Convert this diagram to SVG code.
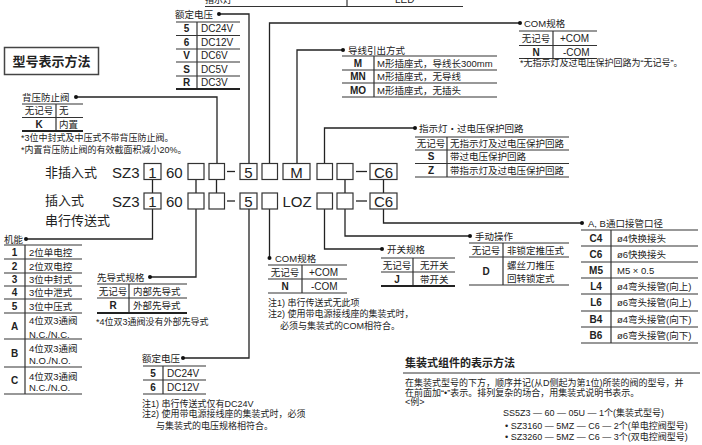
<svg xmlns="http://www.w3.org/2000/svg" width="702" height="445" viewBox="0 0 702 445">
<defs>
<style>
text{font-family:"Liberation Sans","Noto Sans CJK SC",sans-serif;fill:#222;font-size:9.5px}
.b{font-weight:bold;font-size:10px}
.m{text-anchor:middle}
.v{font-size:10px}
.big{font-size:15px}
.h{font-size:13px;font-family:"Noto Sans CJK SC",sans-serif}
.n{font-size:9px}
.ln{stroke:#222;stroke-width:1.3;fill:none}
.tl{stroke:#333;stroke-width:1.2}
.tk{stroke:#222;stroke-width:2}
.bx{fill:#fff;stroke:#333;stroke-width:1.2}
.dot{fill:#111}
</style>
</defs>
<rect width="702" height="445" fill="#fff"/>

<g id="connectors">
<path class="ln" d="M217,163.5V97H76"/>
<path class="ln" d="M249,163.5V14H219"/>
<path class="ln" d="M269.5,163.5V23H520"/>
<path class="ln" d="M297,163.5V50H343"/>
<path class="ln" d="M324.5,163.5V128H415"/>
<path class="ln" d="M152.5,179.5V193M196,179.5V193M216.5,179.5V193M345,179.5V193M383.5,179.5V193"/>
<path class="ln" d="M152.5,209V239H26"/>
<path class="ln" d="M196,209V277H150"/>
<path class="ln" d="M249,209V358H183"/>
<path class="ln" d="M269.5,209V258"/>
<path class="ln" d="M324.5,209V249H382"/>
<path class="ln" d="M345,209V236H470"/>
<path class="ln" d="M383.5,209V223H582"/>
<g class="dot">
<circle cx="76" cy="97" r="2"/><circle cx="219" cy="14" r="2"/><circle cx="520" cy="23" r="2"/><circle cx="343" cy="50" r="2"/><circle cx="415" cy="128" r="2"/>
<circle cx="26" cy="239" r="2"/><circle cx="150" cy="277" r="2"/><circle cx="183" cy="358" r="2"/><circle cx="269.5" cy="258" r="2"/><circle cx="382" cy="249" r="2"/><circle cx="470" cy="236" r="2"/><circle cx="582" cy="223" r="2"/>
</g>
</g>

<g id="indicator-top">
<text x="205" y="3" class="n">指示灯</text>
<line x1="205" y1="6.5" x2="463" y2="6.5" class="tl"/>
<line x1="347" y1="0" x2="347" y2="6.5" class="tl"/>
<text x="395" y="3" class="v">LED</text>
</g>

<g id="title">
<rect x="4.5" y="47.5" width="94" height="27" fill="#fff" stroke="#444" stroke-width="1.5"/>
<text x="51.5" y="66" class="m" style="font-size:13px;font-weight:bold">型号表示方法</text>
</g>

<g id="voltage-top">
<text x="175" y="17.5">额定电压</text>
<path class="tl" d="M176,22H240M176,35.5H240M176,49H240M176,62H240M176,76H240M197,22V89"/>
<path class="tk" d="M176,89H240"/>
<text x="186.5" y="32.2" class="b m">5</text><text x="201" y="32.2" class="v">DC24V</text>
<text x="186.5" y="45.7" class="b m">6</text><text x="201" y="45.7" class="v">DC12V</text>
<text x="186.5" y="59" class="b m">V</text><text x="201" y="59" class="v">DC6V</text>
<text x="186.5" y="72.5" class="b m">S</text><text x="201" y="72.5" class="v">DC5V</text>
<text x="186.5" y="86" class="b m">R</text><text x="201" y="86" class="v">DC3V</text>
</g>

<g id="backpressure">
<text x="22" y="100.5">背压防止阀</text>
<path class="tl" d="M22,104H83M22,117.5H83M56,104V131"/>
<path class="tk" d="M22,131H83"/>
<text x="39" y="114" class="m">无记号</text><text x="59" y="114">无</text>
<text x="39" y="127.5" class="b m">K</text><text x="59" y="127.5">内置</text>
<text x="21" y="140.5" class="n">*3位中封式及中压式不带背压防止阀。</text>
<text x="21" y="152.5" class="n">*内置背压防止阀的有效截面积减小20%。</text>
</g>

<g id="lead-wire">
<text x="348" y="53.5">导线引出方式</text>
<path class="tl" d="M342,56H497M342,70H497M342,83H497M342,97H497M374,56V97"/>
<text x="358" y="66.5" class="b m">M</text><text x="377" y="66.5">M形插座式，导线长300mm</text>
<text x="358" y="80" class="b m">MN</text><text x="377" y="80">M形插座式，无导线</text>
<text x="358" y="93.5" class="b m">MO</text><text x="377" y="93.5">M形插座式，无插头</text>
</g>

<g id="com-top">
<text x="524" y="26.5">COM规格</text>
<path class="tl" d="M519,31H597M519,45.5H597M519,58.5H597M553,31V58.5"/>
<text x="536" y="42" class="m">无记号</text><text x="560" y="42" class="v">+COM</text>
<text x="536" y="55.5" class="b m">N</text><text x="563" y="55.5" class="v">-COM</text>
<text x="520" y="65.5" class="n">*无指示灯及过电压保护回路为“无记号”。</text>
</g>

<g id="indicator">
<text x="419" y="131.5">指示灯・过电压保护回路</text>
<path class="tl" d="M415,137H569M415,150H569M415,163.5H569M415,177H569M447,137V177"/>
<text x="431" y="147" class="m">无记号</text><text x="450" y="147">无指示灯及过电压保护回路</text>
<text x="431" y="160" class="b m">S</text><text x="450" y="160">带过电压保护回路</text>
<text x="431" y="173.5" class="b m">Z</text><text x="450" y="173.5">带指示灯及过电压保护回路</text>
</g>

<g id="model-row1">
<text x="45" y="177" class="h">非插入式</text>
<text x="112" y="177.5" class="big">SZ3</text>
<rect x="144" y="163.5" width="17" height="16" class="bx"/><text x="152.5" y="177.5" class="big m">1</text>
<text x="166" y="177.5" class="big">60</text>
<rect x="188" y="163.5" width="16" height="16" class="bx"/>
<rect x="209" y="163.5" width="15.5" height="16" class="bx"/>
<line x1="227" y1="171.5" x2="235" y2="171.5" class="ln"/>
<rect x="240" y="163.5" width="17" height="16" class="bx"/><text x="248.5" y="177.5" class="big m">5</text>
<rect x="262" y="163.5" width="15.5" height="16" class="bx"/>
<rect x="283" y="163.5" width="27" height="16" class="bx"/><text x="296.5" y="177.5" class="big m">M</text>
<rect x="317" y="163.5" width="15.5" height="16" class="bx"/>
<rect x="337" y="163.5" width="16" height="16" class="bx"/>
<line x1="356" y1="171.5" x2="367" y2="171.5" class="ln"/>
<rect x="370" y="163.5" width="27" height="16" class="bx"/><text x="383.5" y="177.5" class="big m">C6</text>
</g>

<g id="model-row2">
<text x="45" y="205" class="h">插入式</text>
<text x="45" y="224.5" class="h">串行传送式</text>
<text x="112" y="207" class="big">SZ3</text>
<rect x="144" y="193" width="17" height="16" class="bx"/><text x="152.5" y="207" class="big m">1</text>
<text x="166" y="207" class="big">60</text>
<rect x="188" y="193" width="16" height="16" class="bx"/>
<rect x="209" y="193" width="15.5" height="16" class="bx"/>
<line x1="227" y1="201" x2="235" y2="201" class="ln"/>
<rect x="240" y="193" width="17" height="16" class="bx"/><text x="248.5" y="207" class="big m">5</text>
<rect x="262" y="193" width="15.5" height="16" class="bx"/>
<text x="297" y="207" class="big m">LOZ</text>
<rect x="317" y="193" width="15.5" height="16" class="bx"/>
<rect x="337" y="193" width="16" height="16" class="bx"/>
<line x1="356" y1="201" x2="367" y2="201" class="ln"/>
<rect x="370" y="193" width="27" height="16" class="bx"/><text x="383.5" y="207" class="big m">C6</text>
</g>

<g id="function">
<text x="4" y="242.5">机能</text>
<path class="tl" d="M4,245H82M4,259H82M4,273H82M4,286H82M4,299H82M4,313H82M4,339H82M4,367H82M4,394H82M25,245V394"/>
<text x="14.5" y="255.5" class="b m">1</text><text x="29" y="255.5">2位单电控</text>
<text x="14.5" y="269.5" class="b m">2</text><text x="29" y="269.5">2位双电控</text>
<text x="14.5" y="283" class="b m">3</text><text x="29" y="283">3位中封式</text>
<text x="14.5" y="296" class="b m">4</text><text x="29" y="296">3位中泄式</text>
<text x="14.5" y="309.5" class="b m">5</text><text x="29" y="309.5">3位中压式</text>
<text x="14.5" y="329.5" class="b m">A</text><text x="29" y="324">4位双3通阀</text><text x="29" y="337.5">N.C./N.C.</text>
<text x="14.5" y="356.5" class="b m">B</text><text x="29" y="351.5">4位双3通阀</text><text x="29" y="363.5">N.O./N.O.</text>
<text x="14.5" y="384" class="b m">C</text><text x="29" y="379.5">4位双3通阀</text><text x="29" y="391">N.C./N.O.</text>
</g>

<g id="pilot">
<text x="97" y="280.5">先导式规格</text>
<path class="tl" d="M97,284H187M97,298H187M129,284V313"/>
<path class="tk" d="M97,313H187"/>
<text x="113" y="294.5" class="m">无记号</text><text x="133" y="294.5">内部先导式</text>
<text x="113" y="309" class="b m">R</text><text x="133" y="309">外部先导式</text>
<text x="96" y="324.5" class="n">*4位双3通阀没有外部先导式</text>
</g>

<g id="voltage-bottom">
<text x="142" y="361.5">额定电压</text>
<path class="tl" d="M143,366H206M143,380H206M143,394H206M163,366V394"/>
<text x="153" y="376.5" class="b m">5</text><text x="167" y="376.5" class="v">DC24V</text>
<text x="153" y="390.5" class="b m">6</text><text x="167" y="390.5" class="v">DC12V</text>
<text x="142" y="406.5" class="n">注1) 串行传送式仅有DC24V</text>
<text x="142" y="417" class="n">注2) 使用带电源接线座的集装式时，必须</text>
<text x="156" y="428.5" class="n">与集装式的电压规格相符合。</text>
</g>

<g id="com-bottom">
<text x="275" y="261.5">COM规格</text>
<path class="tl" d="M268,265H347M268,279H347M268,293H347M302,265V293"/>
<text x="285" y="275.5" class="m">无记号</text><text x="309" y="275.5" class="v">+COM</text>
<text x="285" y="289.5" class="b m">N</text><text x="311" y="289.5" class="v">-COM</text>
<text x="268" y="305.5" class="n">注1) 串行传送式无此项</text>
<text x="268" y="316.5" class="n">注2) 使用带电源接线座的集装式时，</text>
<text x="280" y="328.5" class="n">必须与集装式的COM相符合。</text>
</g>

<g id="switch">
<text x="387" y="252.5">开关规格</text>
<path class="tl" d="M381,258H455M381,272H455M413,258V286"/>
<path class="tk" d="M381,286H455"/>
<text x="397" y="268.5" class="m">无记号</text><text x="420" y="268.5">无开关</text>
<text x="397" y="282.5" class="b m">J</text><text x="420" y="282.5">带开关</text>
</g>

<g id="manual">
<text x="475" y="239.5">手动操作</text>
<path class="tl" d="M469,243H569M469,257H569M469,285H569M503,243V285"/>
<text x="486" y="253.5" class="m">无记号</text><text x="507" y="253.5">非锁定推压式</text>
<text x="486" y="274.5" class="b m">D</text><text x="507" y="269">螺丝刀推压</text><text x="507" y="281.5">回转锁定式</text>
</g>

<g id="port">
<text x="588" y="226.5">A, B通口接管口径</text>
<path class="tl" d="M581,230H698M581,246H698M581,262H698M581,278H698M581,294H698M581,311H698M581,327H698M581,343H698M611,230V343"/>
<text x="596" y="241.5" class="b m">C4</text><text x="617" y="241.5">ø4快换接头</text>
<text x="596" y="257.5" class="b m">C6</text><text x="617" y="257.5">ø6快换接头</text>
<text x="596" y="273.5" class="b m">M5</text><text x="617" y="273.5">M5 × 0.5</text>
<text x="596" y="289.5" class="b m">L4</text><text x="617" y="289.5">ø4弯头接管(向上)</text>
<text x="596" y="306" class="b m">L6</text><text x="617" y="306">ø6弯头接管(向上)</text>
<text x="596" y="322.5" class="b m">B4</text><text x="617" y="322.5">ø4弯头接管(向下)</text>
<text x="596" y="338.5" class="b m">B6</text><text x="617" y="338.5">ø6弯头接管(向下)</text>
</g>

<g id="manifold">
<text x="405" y="367" style="font-size:11px;font-weight:bold">集装式组件的表示方法</text>
<line x1="403" y1="373" x2="700" y2="373" stroke="#333" stroke-width="1"/>
<text x="405" y="386" class="n">在集装式型号的下方，顺序并记(从D侧起为第1位)所装的阀的型号，并</text>
<text x="405" y="396" class="n">在前面加“•”表示。排列复杂的场合，用集装式说明书表示。</text>
<text x="405" y="405" class="n">&lt;例&gt;</text>
<text x="503" y="416" class="n">SS5Z3 — 60 — 05U — 1个(集装式型号)</text>
<text x="505" y="429" class="n">• SZ3160 — 5MZ — C6 — 2个(单电控阀型号)</text>
<text x="505" y="440" class="n">• SZ3260 — 5MZ — C6 — 3个(双电控阀型号)</text>
</g>
</svg>
